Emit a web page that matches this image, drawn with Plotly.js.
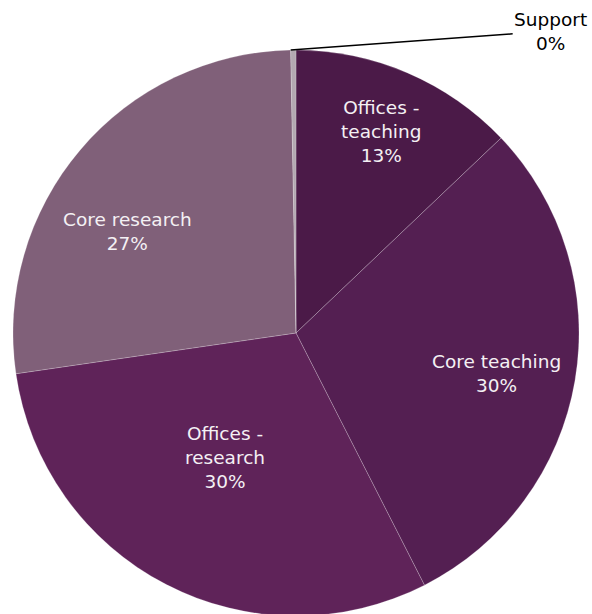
<!DOCTYPE html>
<html>
<head>
<meta charset="utf-8">
<script src="https://cdn.plot.ly/plotly-3.0.1.min.js"></script>
<style>
html,body{margin:0;padding:0;overflow:hidden;background:#fff;}
#chart{width:592px;height:616px;}
</style>
</head>
<body>
<div id="chart"></div>
<script>
var categories = ['Offices - teaching', 'Core teaching', 'Offices - research', 'Core research', 'Support'];
var values = [12.9, 29.6, 30.2, 27.0, 0.3];
var colors = ['#4b1a48', '#541f52', '#5f2359', '#806079', '#b3a8b1'];

// label placement style (fraction of radius, angle nudge in degrees)
var labelRadius = [0.774, 0.724, 0.505, 0.696];
var labelNudge = [-0.4, 1.6, 2.4, -9.2];

var total = values.reduce(function (a, b) { return a + b; }, 0);
var fontFam = 'DejaVu Sans';
var fontSize = 18.5;

var trace = {
  type: 'pie',
  labels: categories,
  values: values,
  textinfo: 'none',
  sort: false,
  direction: 'clockwise',
  rotation: 0,
  marker: {colors: colors, line: {color: 'rgba(255,255,255,0.35)', width: 0.6}},
  showlegend: false,
  hoverinfo: 'label+percent'
};

var annotations = [];
var cum = 0;
categories.forEach(function (c, i) {
  var start = cum / total * 360;
  cum += values[i];
  var end = cum / total * 360;
  var pct = Math.round(values[i] / total * 100) + '%';
  var name = c.replace('Offices - ', 'Offices -<br>');
  if (c === 'Support') {
    var a0 = start * Math.PI / 180;
    annotations.push({
      xref: 'paper', yref: 'paper',
      x: 0.5 + 0.5 * Math.sin(a0), y: 0.5 + 0.5 * Math.cos(a0),
      ax: 260, ay: -19,
      text: name + '<br>' + pct,
      showarrow: true, arrowhead: 0, arrowwidth: 1.5, arrowcolor: '#000000', standoff: 0,
      font: {family: fontFam, size: fontSize, color: '#000000'}
    });
  } else {
    var mid = ((start + end) / 2 + labelNudge[i]) * Math.PI / 180;
    var r = labelRadius[i];
    annotations.push({
      xref: 'paper', yref: 'paper',
      x: 0.5 + 0.5 * r * Math.sin(mid), y: 0.5 + 0.5 * r * Math.cos(mid),
      xanchor: 'center', yanchor: 'middle',
      text: name + '<br>' + pct,
      showarrow: false,
      font: {family: fontFam, size: fontSize, color: '#f4f0f4'}
    });
  }
});

var layout = {
  width: 592,
  height: 616,
  margin: {l: 13, r: 13, t: 50, b: 0},
  paper_bgcolor: '#ffffff',
  showlegend: false,
  annotations: annotations
};

Plotly.newPlot('chart', [trace], layout, {displayModeBar: false, staticPlot: true});
</script>
</body>
</html>
